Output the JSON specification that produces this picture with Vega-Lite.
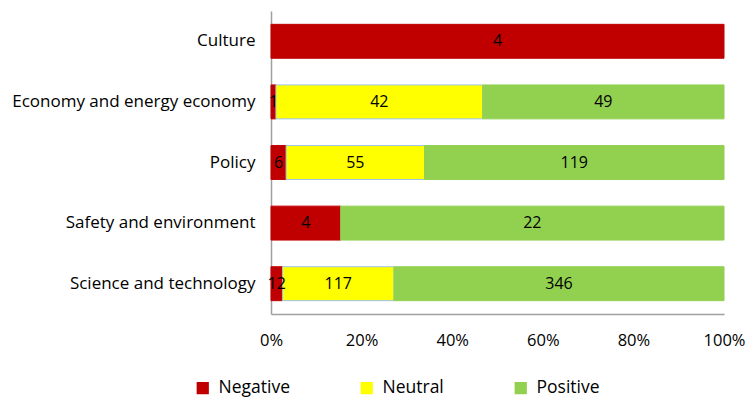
{
  "$schema": "https://vega.github.io/schema/vega-lite/v6.json",
  "width": 453,
  "height": 303,
  "autosize": "none",
  "padding": {"left": 271, "top": 11, "right": 24, "bottom": 87},
  "background": "white",
  "config": {
    "view": {"stroke": null},
    "font": "Open Sans",
    "text": {"font": "Open Sans"}
  },
  "data": {
    "values": [
      {"category": "Culture", "sentiment": "Negative", "count": 4},
      {"category": "Economy and energy economy", "sentiment": "Negative", "count": 1},
      {"category": "Economy and energy economy", "sentiment": "Neutral", "count": 42},
      {"category": "Economy and energy economy", "sentiment": "Positive", "count": 49},
      {"category": "Policy", "sentiment": "Negative", "count": 6},
      {"category": "Policy", "sentiment": "Neutral", "count": 55},
      {"category": "Policy", "sentiment": "Positive", "count": 119},
      {"category": "Safety and environment", "sentiment": "Negative", "count": 4},
      {"category": "Safety and environment", "sentiment": "Positive", "count": 22},
      {"category": "Science and technology", "sentiment": "Negative", "count": 12},
      {"category": "Science and technology", "sentiment": "Neutral", "count": 117},
      {"category": "Science and technology", "sentiment": "Positive", "count": 346}
    ]
  },
  "transform": [
    {"stack": "count", "groupby": ["category"], "sort": [{"field": "sentiment", "order": "ascending"}], "offset": "normalize", "as": ["x0", "x1"]},
    {"calculate": "(datum.x0 + datum.x1) / 2", "as": "xm"}
  ],
  "encoding": {
    "y": {
      "field": "category",
      "type": "nominal",
      "sort": "ascending",
      "scale": {"paddingInner": 0.44, "paddingOuter": 0.22},
      "axis": {
        "title": null,
        "ticks": false,
        "domainColor": "#A0A0A0",
        "domainWidth": 1.5,
        "labelFont": "Open Sans",
        "labelFontSize": 17,
        "labelColor": "#000000",
        "labelPadding": 16,
        "labelLimit": 300
      }
    }
  },
  "layer": [
    {
      "mark": {"type": "bar", "strokeWidth": 1},
      "encoding": {
        "x": {
          "field": "x0",
          "type": "quantitative",
          "scale": {"domain": [0, 1], "nice": false},
          "axis": {
            "title": null,
            "format": "%",
            "values": [0, 0.2, 0.4, 0.6, 0.8, 1],
            "ticks": false,
            "grid": false,
            "domainColor": "#A0A0A0",
            "domainWidth": 1.5,
            "labelFont": "Open Sans",
            "labelFontSize": 16.5,
            "labelColor": "#000000",
            "labelPadding": 18,
            "labelFlush": false
          }
        },
        "x2": {"field": "x1"},
        "color": {
          "field": "sentiment",
          "type": "nominal",
          "scale": {
            "domain": ["Negative", "Neutral", "Positive"],
            "range": ["#C00000", "#FFFF00", "#92D050"]
          },
          "legend": {
            "title": null,
            "orient": "none",
            "direction": "horizontal",
            "legendX": -77,
            "legendY": 368,
            "symbolType": "square",
            "symbolSize": 150,
            "symbolStrokeWidth": 0,
            "labelFont": "Open Sans",
            "labelFontSize": 17.5,
            "labelColor": "#000000",
            "labelOffset": 7,
            "columnPadding": 68
          }
        },
        "stroke": {
          "field": "sentiment",
          "type": "nominal",
          "scale": {
            "domain": ["Negative", "Neutral", "Positive"],
            "range": ["#C00000", "#9DC3E6", "#92D050"]
          },
          "legend": null
        }
      }
    },
    {
      "mark": {"type": "text", "fontSize": 16, "color": "#000000", "font": "Open Sans"},
      "encoding": {
        "x": {"field": "xm", "type": "quantitative"},
        "text": {"field": "count", "type": "quantitative"}
      }
    }
  ]
}
